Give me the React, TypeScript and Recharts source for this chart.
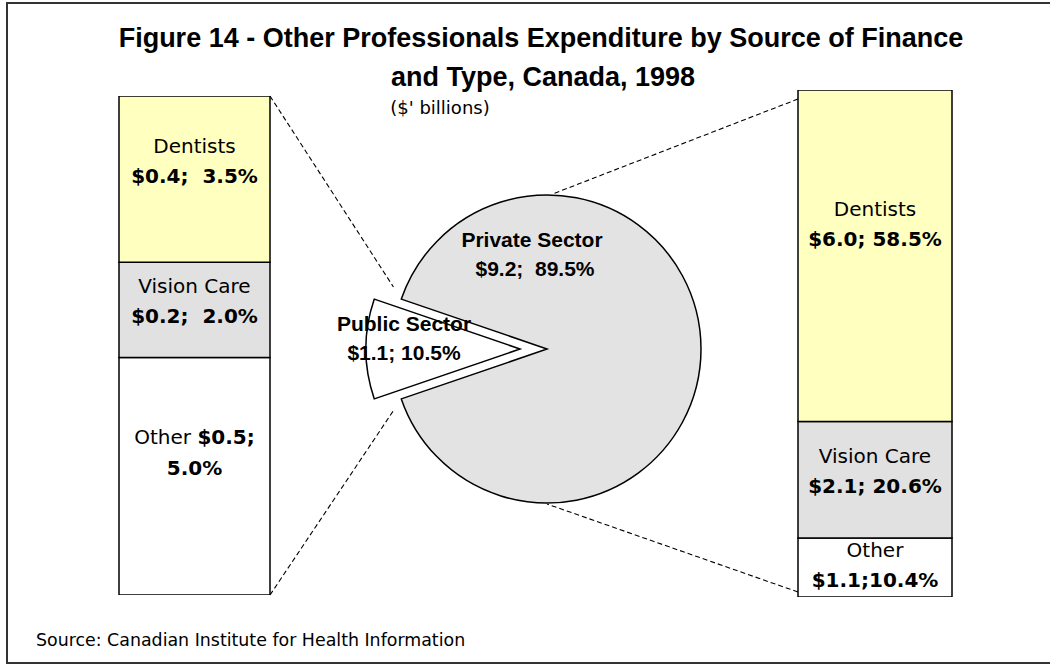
import React from "react";
import { BarChart, Bar, XAxis, YAxis, LabelList, PieChart, Pie, Cell } from "recharts";

// Segments of each stacked bar, top to bottom as shown
const SEGMENTS = ["Dentists", "Vision Care", "Other"];
const PUBLIC_AMOUNTS = [0.4, 0.2, 0.5];
const PUBLIC_SHARES = [3.5, 2.0, 5.0];
const PRIVATE_AMOUNTS = [6.0, 2.1, 1.1];
const PRIVATE_SHARES = [58.5, 20.6, 10.4];

// Pie slices
const SECTORS = ["Public Sector", "Private Sector"];
const SECTOR_AMOUNTS = [1.1, 9.2];
const SECTOR_SHARES = [10.5, 89.5];

const FONT = "'Liberation Sans', Arial, Helvetica, sans-serif";
const LABEL_FONT = "'DejaVu Sans', Verdana, sans-serif";
const SEG_COLORS: Record<string, string> = {
  Dentists: "#FFFFC0",
  "Vision Care": "#E1E1E1",
  Other: "#FFFFFF",
};

// layout
const LEFT_BOX = { x: 119, y: 96, w: 151, h: 499 };
const RIGHT_BOX = { x: 798, y: 90, w: 154, h: 507 };
const PIE = { cx: 547, cy: 349, r: 154, explode: 27 };

// vertical shift of each label block from its segment centre
const LABEL_DY: Record<string, number[]> = {
  public: [-19, -10, -25],
  private: [-33, -10, -4],
};

type Box = { x: number; y: number; w: number; h: number };

function SegLabel(props: any) {
  const { x, y, width, height, side, segIndex, amount, share } = props;
  const cx = Number(x) + Number(width) / 2;
  const cy = Number(y) + Number(height) / 2 + LABEL_DY[side][segIndex];
  const name = SEGMENTS[segIndex];
  const amt = `$${amount.toFixed(1)};`;
  const pct = `${share.toFixed(1)}%`;
  const common = {
    x: cx,
    textAnchor: "middle" as const,
    fontFamily: LABEL_FONT,
    fontSize: 20,
    fill: "#000",
    style: { whiteSpace: "pre" as const },
  };
  if (side === "public" && name === "Other") {
    return (
      <g>
        <text {...common} y={cy - 7}>
          {name + " "}
          <tspan fontWeight="bold">{amt}</tspan>
        </text>
        <text {...common} y={cy + 24} fontWeight="bold">
          {pct}
        </text>
      </g>
    );
  }
  const sep = side === "public" ? "  " : name === "Other" ? "" : " ";
  return (
    <g>
      <text {...common} y={cy - 7}>
        {name}
      </text>
      <text {...common} y={cy + 23} fontWeight="bold">
        {amt + sep + pct}
      </text>
    </g>
  );
}

function SegmentBar({
  box,
  amounts,
  shares,
  side,
}: {
  box: Box;
  amounts: number[];
  shares: number[];
  side: string;
}) {
  const row: Record<string, any> = { name: side };
  SEGMENTS.forEach((s, i) => (row[s] = shares[i]));
  const total = shares.reduce((a, b) => a + b, 0);
  const m = 2;
  // bottom of stack first
  const order = [2, 1, 0];
  return (
    <div style={{ position: "absolute", left: box.x - m, top: box.y - m }}>
      <BarChart
        width={box.w + 2 * m}
        height={box.h + 2 * m}
        data={[row]}
        margin={{ top: m, right: m, bottom: m, left: m }}
        barCategoryGap={0}
      >
        <XAxis dataKey="name" hide />
        <YAxis hide type="number" domain={[0, total]} allowDataOverflow />
        {order.map((i) => (
          <Bar
            key={SEGMENTS[i]}
            dataKey={SEGMENTS[i]}
            stackId="s"
            fill={SEG_COLORS[SEGMENTS[i]]}
            stroke="#000"
            strokeWidth={1.5}
            isAnimationActive={false}
          >
            <LabelList
              dataKey={SEGMENTS[i]}
              content={(p: any) => (
                <SegLabel {...p} side={side} segIndex={i} amount={amounts[i]} share={shares[i]} />
              )}
            />
          </Bar>
        ))}
      </BarChart>
    </div>
  );
}

const pieData = SECTORS.map((name, i) => ({
  name,
  amount: SECTOR_AMOUNTS[i],
  share: SECTOR_SHARES[i],
}));

const START = 180 - (SECTOR_SHARES[0] / 100) * 180;

function pieLabel(show: number) {
  return (p: any) => {
    if (p.index !== show) return null;
    const d = pieData[show];
    const isPublic = show === 0;
    const lx = p.cx + (isPublic ? -116 : -15);
    const ly = p.cy + (isPublic ? -26 : -110);
    return (
      <g>
        <text x={lx} y={ly + 8} textAnchor="middle" fontFamily={FONT} fontSize={21} fontWeight="bold" fill="#000">
          {d.name}
        </text>
        <text
          x={lx + (isPublic ? 0 : 3)}
          y={ly + 37}
          textAnchor="middle"
          fontFamily={FONT}
          fontSize={21}
          fontWeight="bold"
          fill="#000"
          style={{ whiteSpace: "pre" }}
        >
          {`$${d.amount.toFixed(1)};${isPublic ? " " : "  "}${d.share.toFixed(1)}%`}
        </text>
      </g>
    );
  };
}

function polar(cx: number, cy: number, r: number, deg: number) {
  const a = (deg * Math.PI) / 180;
  return { x: cx + r * Math.cos(a), y: cy - r * Math.sin(a) };
}

export default function App() {
  // connector end points
  const notchTop = polar(PIE.cx, PIE.cy, PIE.r, START);
  const notchBot = polar(PIE.cx, PIE.cy, PIE.r, START + (SECTOR_SHARES[0] / 100) * 360);
  const lt = { x: LEFT_BOX.x + LEFT_BOX.w, y: LEFT_BOX.y };
  const lb = { x: LEFT_BOX.x + LEFT_BOX.w, y: LEFT_BOX.y + LEFT_BOX.h };
  const k = 0.94;
  const pieTop = polar(PIE.cx, PIE.cy, PIE.r, 88);
  const pieBot = polar(PIE.cx, PIE.cy, PIE.r, 270);
  const dash = { stroke: "#000", strokeWidth: 1.1, strokeDasharray: "5 3", fill: "none" };

  return (
    <div
      style={{
        position: "absolute",
        left: 0,
        top: 0,
        width: 1050,
        height: 666,
        overflow: "hidden",
        background: "#fff",
        fontFamily: FONT,
      }}
    >
      {/* frame (runs off the right edge) */}
      <div
        style={{
          position: "absolute",
          left: 6,
          top: 2,
          width: 1100,
          height: 658,
          border: "2px solid #333",
        }}
      />
      <svg width={1050} height={666} style={{ position: "absolute", left: 0, top: 0 }}>
        <text x={541} y={47} textAnchor="middle" fontFamily={FONT} fontSize={27} fontWeight="bold" fill="#000">
          Figure 14 - Other Professionals Expenditure by Source of Finance
        </text>
        <text x={543} y={86} textAnchor="middle" fontFamily={FONT} fontSize={27} fontWeight="bold" fill="#000">
          and Type, Canada, 1998
        </text>
        <text x={440} y={114} textAnchor="middle" fontFamily={LABEL_FONT} fontSize={18} fill="#000" style={{ whiteSpace: "pre" }}>
          ($' billions)
        </text>
        <text x={36} y={646} fontFamily={LABEL_FONT} fontSize={17.4} fill="#000">
          Source: Canadian Institute for Health Information
        </text>
        <line x1={lt.x} y1={lt.y} x2={lt.x + (notchTop.x - lt.x) * k} y2={lt.y + (notchTop.y - lt.y) * k} {...dash} />
        <line x1={lb.x} y1={lb.y} x2={lb.x + (notchBot.x - lb.x) * k} y2={lb.y + (notchBot.y - lb.y) * k} {...dash} />
        <line x1={RIGHT_BOX.x} y1={RIGHT_BOX.y + 9} x2={pieTop.x} y2={pieTop.y - 1} {...dash} />
        <line x1={RIGHT_BOX.x} y1={RIGHT_BOX.y + RIGHT_BOX.h - 5} x2={pieBot.x} y2={pieBot.y + 1} {...dash} />
      </svg>

      <SegmentBar box={LEFT_BOX} amounts={PUBLIC_AMOUNTS} shares={PUBLIC_SHARES} side="public" />
      <SegmentBar box={RIGHT_BOX} amounts={PRIVATE_AMOUNTS} shares={PRIVATE_SHARES} side="private" />

      <div style={{ position: "absolute", left: 0, top: 0 }}>
        <PieChart width={1050} height={666} margin={{ top: 0, right: 0, bottom: 0, left: 0 }}>
          <Pie
            data={pieData}
            dataKey="share"
            nameKey="name"
            cx={PIE.cx}
            cy={PIE.cy}
            outerRadius={PIE.r}
            startAngle={START}
            endAngle={START + 360}
            isAnimationActive={false}
            labelLine={false}
            label={pieLabel(1)}
          >
            {pieData.map((d, i) => (
              <Cell
                key={d.name}
                fill={i === 1 ? "#E3E3E3" : "none"}
                stroke={i === 1 ? "#000" : "none"}
                strokeWidth={1.5}
              />
            ))}
          </Pie>
          <Pie
            data={pieData}
            dataKey="share"
            nameKey="name"
            cx={PIE.cx - PIE.explode}
            cy={PIE.cy}
            outerRadius={PIE.r}
            startAngle={START}
            endAngle={START + 360}
            isAnimationActive={false}
            labelLine={false}
            label={pieLabel(0)}
          >
            {pieData.map((d, i) => (
              <Cell
                key={d.name}
                fill={i === 0 ? "#FFFFFF" : "none"}
                stroke={i === 0 ? "#000" : "none"}
                strokeWidth={1.5}
              />
            ))}
          </Pie>
        </PieChart>
      </div>
    </div>
  );
}
